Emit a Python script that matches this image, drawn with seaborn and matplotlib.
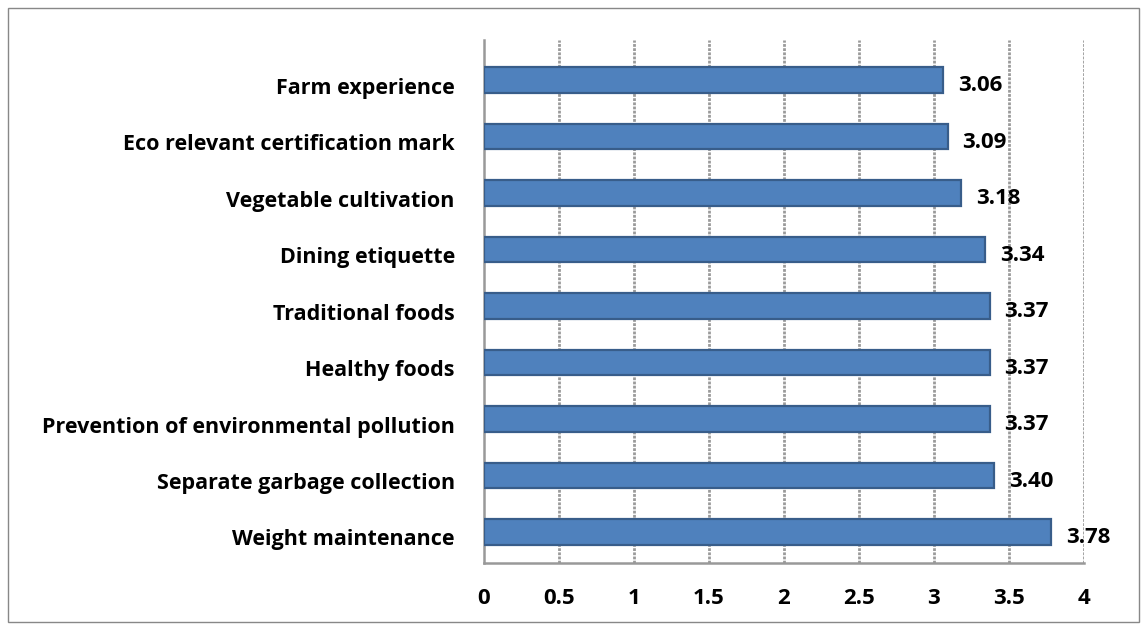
import matplotlib
matplotlib.use("Agg")
import matplotlib.pyplot as plt
import matplotlib.transforms as mtransforms
import seaborn as sns
import pandas as pd
from matplotlib.patches import Rectangle

categories = ["Farm experience", "Eco relevant certification mark", "Vegetable cultivation",
              "Dining etiquette", "Traditional foods", "Healthy foods",
              "Prevention of environmental pollution", "Separate garbage collection",
              "Weight maintenance"]
values = [3.06, 3.09, 3.18, 3.34, 3.37, 3.37, 3.37, 3.40, 3.78]
xticks = [0, 0.5, 1, 1.5, 2, 2.5, 3, 3.5, 4]
xticklabels = ["0", "0.5", "1", "1.5", "2", "2.5", "3", "3.5", "4"]

df = pd.DataFrame({"cat": categories, "val": values})

sns.set_style("white")
plt.rcParams["font.family"] = ["Open Sans", "DejaVu Sans"]
plt.rcParams["text.color"] = "black"
plt.rcParams["xtick.labelcolor"] = "black"
plt.rcParams["ytick.labelcolor"] = "black"

W, H = 1147, 630
fig = plt.figure(figsize=(W / 100, H / 100), dpi=100)
ax = fig.add_axes([484 / W, 1 - 563 / H, 600 / W, (563 - 40) / H])

sns.barplot(data=df, x="val", y="cat", ax=ax, color="#4F81BD", width=0.45,
            edgecolor="#385D8A", linewidth=1.6, saturation=1, zorder=3)

ax.set_xlim(0, 4)
ax.set_ylim(8.55, -0.71)
ax.set_xticks(xticks)
ax.set_xticklabels(xticklabels, fontsize=16, fontweight="bold", color="black")
ax.set_yticks(range(len(categories)))
ax.set_yticklabels(categories, fontsize=15.5, fontweight="bold", color="black")
ax.set_yticks([i + 0.5 for i in range(-1, len(categories))], minor=True)
ax.set_xlabel("")
ax.set_ylabel("")
ax.tick_params(axis="x", length=6, color="#888888", width=1.5, pad=12)
ax.tick_params(axis="y", which="major", length=0, pad=21)
ax.tick_params(axis="y", which="minor", length=6, color="#888888", width=1.5)

offset = mtransforms.ScaledTranslation(0, -4 / 72, fig.dpi_scale_trans)
for lab in ax.get_yticklabels():
    lab.set_transform(lab.get_transform() + offset)

for t in xticks[1:]:
    ax.axvline(t, color="#9a9a9a", lw=2, ls=(0, (1, 0.5)), zorder=1)

for s in ["top", "right"]:
    ax.spines[s].set_visible(False)
for s in ["left", "bottom"]:
    ax.spines[s].set_color("#999999")
    ax.spines[s].set_linewidth(1.8)

for i, v in enumerate(values):
    ax.text(v + 0.1, i + 0.1, f"{v:.2f}", va="center", ha="left",
            fontsize=16, fontweight="bold", color="black", zorder=4)

fig.patches.append(Rectangle((8 / W, 8 / H), (1139 - 8) / W, (622 - 8) / H,
                             transform=fig.transFigure, fill=False,
                             edgecolor="#888888", lw=1))

fig.savefig("out.png", dpi=100)
